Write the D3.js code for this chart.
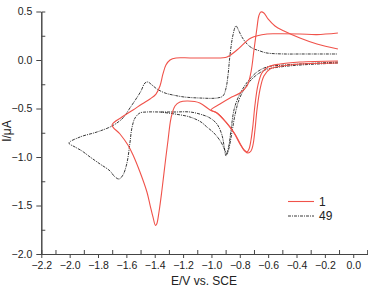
<!DOCTYPE html>
<html>
<head>
<meta charset="utf-8">
<script src="https://cdn.jsdelivr.net/npm/d3@7"></script>
<style>
	body { margin: 0; background: #fff; }
	svg { display: block; font-family: "Liberation Sans", Arial, sans-serif; }
	.axis path, .axis line { stroke: #444; }
	.axis text { fill: #222; font-size: 10.5px; font-family: "Liberation Sans", Arial, sans-serif; }
</style>
</head>
<body>
<div id="chart"></div>
<script>
// cycle 1 (red), first sweep: -0.1 -> -1.0 -> -0.1 V
var scan1a = [
	[-0.108,-0.010],[-0.376,-0.021],[-0.517,-0.041],[-0.601,-0.072],[-0.644,-0.134],[-0.672,-0.258],
	[-0.693,-0.464],[-0.707,-0.670],[-0.721,-0.825],[-0.735,-0.918],[-0.749,-0.948],[-0.771,-0.928],
	[-0.799,-0.866],[-0.841,-0.753],[-0.905,-0.629],[-0.961,-0.546],[-1.003,-0.515],
	[-0.940,-0.454],[-0.869,-0.392],[-0.799,-0.340],[-0.749,-0.268],[-0.721,-0.124],[-0.700,0.103],
	[-0.679,0.330],[-0.666,0.454],[-0.652,0.495],[-0.630,0.485],[-0.601,0.423],[-0.552,0.351],
	[-0.488,0.299],[-0.376,0.227],[-0.256,0.165],[-0.108,0.113]
];
// cycle 1 (red), second sweep: -0.1 -> -1.7 -> -0.1 V
var scan1b = [
	[-0.108,-0.031],[-0.376,-0.041],[-0.503,-0.062],[-0.587,-0.093],[-0.630,-0.165],[-0.658,-0.309],
	[-0.679,-0.515],[-0.693,-0.722],[-0.707,-0.876],[-0.721,-0.938],[-0.742,-0.959],[-0.764,-0.938],
	[-0.792,-0.876],[-0.834,-0.763],[-0.898,-0.639],[-0.961,-0.546],[-1.010,-0.515],[-1.082,-0.443],
	[-1.166,-0.423],[-1.222,-0.433],[-1.257,-0.474],[-1.285,-0.598],[-1.306,-0.825],[-1.328,-1.082],
	[-1.349,-1.340],[-1.370,-1.567],[-1.386,-1.690],[-1.395,-1.705],[-1.412,-1.620],[-1.433,-1.495],
	[-1.455,-1.361],[-1.504,-1.155],[-1.553,-0.979],[-1.589,-0.876],[-1.645,-0.763],[-1.701,-0.670],
	[-1.631,-0.588],[-1.553,-0.515],[-1.490,-0.454],[-1.433,-0.402],[-1.391,-0.351],[-1.363,-0.268],
	[-1.342,-0.144],[-1.321,-0.052],[-1.292,0.000],[-1.250,0.021],[-1.151,0.021],[-1.010,0.021],
	[-0.890,0.031],[-0.820,0.103],[-0.721,0.227],[-0.608,0.268],[-0.517,0.270],[-0.376,0.268],
	[-0.256,0.262],[-0.108,0.278]
];

// cycle 49 (black dash-dot): -0.1 -> -2.0 -> -0.1 V
var scan49a = [
	[-0.108,-0.021],[-0.376,-0.041],[-0.488,-0.052],[-0.608,-0.072],[-0.679,-0.124],[-0.735,-0.206],
	[-0.771,-0.278],[-0.813,-0.392],[-0.841,-0.515],[-0.862,-0.722],[-0.876,-0.876],[-0.890,-0.959],
	[-0.897,-0.990],[-0.926,-0.773],[-0.961,-0.660],[-1.010,-0.598],[-1.060,-0.567],[-1.151,-0.536],
	[-1.257,-0.536],[-1.363,-0.536],[-1.455,-0.536],[-1.504,-0.546],[-1.539,-0.598],[-1.561,-0.701],
	[-1.575,-0.856],[-1.596,-1.062],[-1.624,-1.186],[-1.652,-1.227],[-1.687,-1.196],[-1.715,-1.144],
	[-1.786,-1.072],[-1.856,-1.000],[-1.913,-0.938],[-1.962,-0.897],[-2.005,-0.856],
	[-1.927,-0.794],[-1.807,-0.742],[-1.701,-0.680],[-1.624,-0.598],[-1.575,-0.495],[-1.532,-0.402],
	[-1.497,-0.320],[-1.469,-0.237],[-1.448,-0.227],[-1.419,-0.258],[-1.384,-0.299],[-1.328,-0.340],
	[-1.271,-0.361],[-1.194,-0.381],[-1.081,-0.392],[-0.961,-0.392],[-0.919,-0.371],[-0.897,-0.289],
	[-0.883,-0.155],[-0.869,0.052],[-0.848,0.258],[-0.827,0.351],[-0.806,0.299],[-0.785,0.237],
	[-0.749,0.165],[-0.714,0.124],[-0.658,0.093],[-0.608,0.072],[-0.481,0.062],[-0.368,0.062],
	[-0.115,0.062]
];
// cycle 49, start of the next cathodic sweep
var scan49b = [
	[-0.108,-0.031],[-0.376,-0.052],[-0.517,-0.072],[-0.623,-0.103],[-0.707,-0.186],[-0.764,-0.289],
	[-0.806,-0.412],[-0.834,-0.567],[-0.855,-0.742],[-0.876,-0.907],[-0.890,-0.969],[-0.912,-0.907],
	[-0.933,-0.845],[-0.982,-0.753],[-1.032,-0.691],[-1.074,-0.639],[-1.151,-0.588],[-1.257,-0.557],
	[-1.363,-0.536]
];

var seriesNames = ["1", "49"];
var xTicks = [-2.2, -2.0, -1.8, -1.6, -1.4, -1.2, -1.0, -0.8, -0.6, -0.4, -0.2, 0.0];
var yTicks = [-2.0, -1.5, -1.0, -0.5, 0.0, 0.5];

var width = 368;
var height = 289;
var margin = {top: 11.5, right: 0.6, bottom: 35, left: 41.3};

var svg = d3.select("#chart").append("svg")
	.attr("width", width)
	.attr("height", height);

var x = d3.scaleLinear()
	.domain([-2.2, 0.1])
	.range([margin.left, width-margin.right]);
var y = d3.scaleLinear()
	.domain([-2.0, 0.5])
	.range([height-margin.bottom, margin.top]);

var line = d3.line()
	.x(function(d) { return x(d[0]); })
	.y(function(d) { return y(d[1]); })
	.curve(d3.curveCatmullRom.alpha(0.5));

var red = "#f0524a";
var dash = "3,1,1,1";

[scan49a, scan49b].forEach(function(s) {
	svg.append("path")
		.datum(s)
		.attr("d", line)
		.style("fill", "none")
		.style("stroke", "#222")
		.style("stroke-width", 0.9)
		.style("stroke-dasharray", dash);
});

[scan1a, scan1b].forEach(function(s) {
	svg.append("path")
		.datum(s)
		.attr("d", line)
		.style("fill", "none")
		.style("stroke", red)
		.style("stroke-width", 1.1);
});

// minor ticks point inward, major ones outward
var xMinor = d3.range(-2.1, 0.15, 0.2);
var yMinor = d3.range(-1.75, 0.5, 0.5);

svg.append("g")
	.attr("class", "axis")
	.attr("transform", "translate(0,"+y(-2.0)+")")
	.call(d3.axisBottom(x).tickValues(xMinor).tickSize(-4).tickFormat(""));
svg.append("g")
	.attr("class", "axis")
	.attr("transform", "translate(0,"+y(-2.0)+")")
	.call(d3.axisBottom(x).tickValues(xTicks).tickSize(4).tickSizeOuter(0).tickPadding(4).tickFormat(d3.format(".1f")));

svg.append("g")
	.attr("class", "axis")
	.attr("transform", "translate("+x(-2.2)+",0)")
	.call(d3.axisLeft(y).tickValues(yMinor).tickSize(-4).tickFormat(""));
svg.append("g")
	.attr("class", "axis")
	.attr("transform", "translate("+x(-2.2)+",0)")
	.call(d3.axisLeft(y).tickValues(yTicks).tickSize(5).tickSizeOuter(0).tickPadding(4).tickFormat(d3.format(".1f")));

svg.append("text")
	.text("E/V vs. SCE")
	.attr("x", 204)
	.attr("y", 285)
	.style("text-anchor", "middle")
	.style("font-size", "12px")
	.style("fill", "#222");

svg.append("text")
	.text("I/μA")
	.style("text-anchor", "middle")
	.style("font-size", "12px")
	.style("fill", "#222")
	.attr("transform", "translate(11,131) rotate(-90)");

// legend
var legend = svg.append("g")
	.attr("transform", "translate(288,201.5)");
for(var i = 0; i < seriesNames.length; i++) {
	legend.append("line")
		.attr("x1", 0)
		.attr("x2", 26)
		.attr("y1", i*14.5)
		.attr("y2", i*14.5)
		.style("stroke", i == 0 ? red : "#222")
		.style("stroke-width", i == 0 ? 1.1 : 0.9)
		.style("stroke-dasharray", i == 0 ? null : dash);
	legend.append("text")
		.text(seriesNames[i])
		.attr("x", 31)
		.attr("y", i*14.5+4.3)
		.style("font-size", "12px")
		.style("fill", "#222");
}
</script>
</body>
</html>
